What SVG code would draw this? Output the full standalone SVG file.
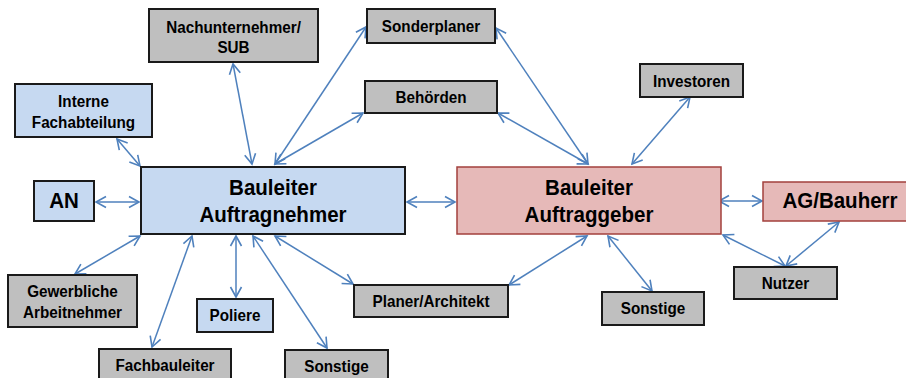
<svg xmlns="http://www.w3.org/2000/svg" width="906" height="378" viewBox="0 0 906 378">
<style>
.blue{fill:#C6D9F1;stroke:#1a1a1a;stroke-width:2}
.gray{fill:#BFBFBF;stroke:#1a1a1a;stroke-width:2}
.pink{fill:#E6B9B8;stroke:#A3403D;stroke-width:1.5}
text{font-family:"Liberation Sans",Arial,sans-serif;font-weight:bold;fill:#000;text-anchor:middle;transform-box:fill-box;transform-origin:center}
.big{font-size:21.5px;transform:scaleX(0.955)}
.sm{font-size:16.5px;transform:scaleX(0.925)}
.conn line{stroke:#4F81BD;stroke-width:1.5;marker-start:url(#ah);marker-end:url(#ah)}
</style>
<defs>
<marker id="ah" viewBox="-12 -7 14 14" refX="0" refY="0" markerWidth="14" markerHeight="14" markerUnits="userSpaceOnUse" orient="auto-start-reverse">
<path d="M-10,-5.5 L0,0 L-10,5.5" fill="none" stroke="#4F81BD" stroke-width="1.6"/>
</marker>
</defs>
<rect width="906" height="378" fill="#fff"/>
<g id="connectors" class="conn">
<line x1="96" y1="202" x2="139" y2="202"/>
<line x1="407" y1="202" x2="455" y2="202"/>
<line x1="719" y1="201" x2="762" y2="201"/>
<line x1="117" y1="139" x2="140" y2="166"/>
<line x1="233" y1="64" x2="252" y2="164"/>
<line x1="366" y1="27" x2="275" y2="164"/>
<line x1="363" y1="113" x2="275" y2="164"/>
<line x1="496" y1="28" x2="588" y2="164"/>
<line x1="498" y1="113" x2="588" y2="164"/>
<line x1="690" y1="97" x2="632" y2="164"/>
<line x1="140" y1="236" x2="75" y2="274"/>
<line x1="192" y1="236" x2="152" y2="347"/>
<line x1="236" y1="236" x2="236" y2="297"/>
<line x1="253" y1="236" x2="327" y2="348"/>
<line x1="275" y1="236" x2="353" y2="284"/>
<line x1="587" y1="236" x2="509" y2="285"/>
<line x1="608" y1="236" x2="652" y2="291"/>
<line x1="723" y1="235" x2="785" y2="266"/>
<line x1="839" y1="222" x2="786" y2="266"/>
</g>
<g id="bl_auftragnehmer"><rect class="blue" x="141" y="167" width="264" height="67"/><text class="big" x="273" y="195">Bauleiter</text><text class="big" x="273" y="222">Auftragnehmer</text></g>
<g id="bl_auftraggeber"><rect class="pink" x="457" y="167" width="264" height="67"/><text class="big" x="589" y="195">Bauleiter</text><text class="big" x="589" y="222">Auftraggeber</text></g>
<g id="an"><rect class="blue" x="34" y="181" width="60" height="40"/><text class="big" x="64" y="208.5">AN</text></g>
<g id="ag_bauherr"><rect class="pink" x="763" y="182" width="150" height="39"/><text class="big" x="840" y="208.5">AG/Bauherr</text></g>
<g id="nachunternehmer"><rect class="gray" x="149" y="9" width="169" height="53"/><text class="sm" x="233.5" y="33">Nachunternehmer/</text><text class="sm" x="233.5" y="53.5">SUB</text></g>
<g id="interne"><rect class="blue" x="15" y="84" width="137" height="53"/><text class="sm" x="83.5" y="107">Interne</text><text class="sm" x="83.5" y="128">Fachabteilung</text></g>
<g id="sonderplaner"><rect class="gray" x="367" y="9" width="128" height="34"/><text class="sm" x="431" y="32">Sonderplaner</text></g>
<g id="behoerden"><rect class="gray" x="365" y="81" width="132" height="32"/><text class="sm" x="431" y="103">Behörden</text></g>
<g id="investoren"><rect class="gray" x="640" y="64" width="103" height="33"/><text class="sm" x="691.5" y="87">Investoren</text></g>
<g id="gewerbliche"><rect class="gray" x="8" y="275" width="129" height="52"/><text class="sm" x="72.5" y="297.5">Gewerbliche</text><text class="sm" x="72.5" y="318.5">Arbeitnehmer</text></g>
<g id="poliere"><rect class="blue" x="197" y="299" width="76" height="33"/><text class="sm" x="235" y="321">Poliere</text></g>
<g id="fachbauleiter"><rect class="gray" x="99" y="349" width="132" height="40"/><text class="sm" x="165" y="371.5">Fachbauleiter</text></g>
<g id="sonstige_an"><rect class="gray" x="285" y="350" width="103" height="40"/><text class="sm" x="336.5" y="372">Sonstige</text></g>
<g id="planer"><rect class="gray" x="354" y="285" width="154" height="32"/><text class="sm" x="431" y="307.5">Planer/Architekt</text></g>
<g id="sonstige_ag"><rect class="gray" x="602" y="292" width="102" height="33"/><text class="sm" x="653" y="314">Sonstige</text></g>
<g id="nutzer"><rect class="gray" x="734" y="267" width="103" height="32"/><text class="sm" x="785.5" y="289.5">Nutzer</text></g>
</svg>
